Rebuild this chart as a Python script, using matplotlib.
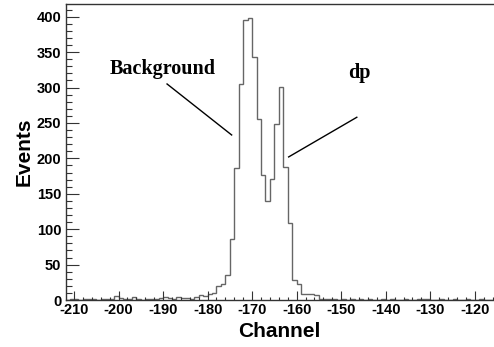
import numpy as np
import matplotlib
matplotlib.use("Agg")
import matplotlib.pyplot as plt
from matplotlib.ticker import MultipleLocator

plt.rcParams["axes.unicode_minus"] = False

# histogram: left bin edge (channel) and counts, bin width 1
channel_start = -212
counts = [
    0, 2, 1, 0, 1, 2, 1, 0, 1, 2,        # -212 .. -203
    1, 5, 3, 1, 1, 4, 1, 0, 1, 1,        # -202 .. -193
    2, 3, 4, 3, 2, 4, 3, 3, 2, 4,        # -192 .. -183
    7, 6, 9, 10, 20, 22, 35, 86, 187, 305,   # -182 .. -173
    396, 398, 343, 256, 177, 140, 171, 249, 301, 188,  # -172 .. -163
    109, 28, 22, 9, 8, 8, 7, 1, 2, 2,    # -162 .. -153
    1, 0, 1, 0, 1, 0, 1, 0, 1, 0,        # -152 .. -143
    0, 1, 0, 1, 0, 0, 1, 0, 0, 1,        # -142 .. -133
    2, 1, 0, 0, 1, 0, 0, 1, 0, 0,        # -132 .. -123
    1, 0, 0, 1, 0, 0,                    # -122 .. -117
]
edges = channel_start + np.arange(len(counts) + 1)

fig = plt.figure(figsize=(4.94, 3.47), dpi=100)
ax = fig.add_axes([65.5 / 494, 47 / 347, 1 - 65.5 / 494, (300 - 4.3) / 347])

ax.stairs(counts, edges, color="#666666", linewidth=1.0, baseline=None)

ax.set_xlim(-211.9, -115.7)
ax.set_ylim(0, 417.5)

ax.spines["right"].set_visible(False)
for s in ("left", "bottom", "top"):
    ax.spines[s].set_color("#333333")
    ax.spines[s].set_linewidth(1.0)

ax.xaxis.set_major_locator(MultipleLocator(10))
ax.xaxis.set_minor_locator(MultipleLocator(2))
ax.yaxis.set_major_locator(MultipleLocator(50))
ax.yaxis.set_minor_locator(MultipleLocator(10))
ax.tick_params(axis="both", which="both", direction="in", top=False, right=False,
               color="#333333", width=0.8)
ax.tick_params(axis="x", which="major", length=6.5, pad=2)
ax.tick_params(axis="x", which="minor", length=2.5)
ax.tick_params(axis="y", which="major", length=9, pad=3)
ax.tick_params(axis="y", which="minor", length=4.3)

for lab in ax.get_xticklabels() + ax.get_yticklabels():
    lab.set_fontfamily("Liberation Sans")
    lab.set_fontweight("bold")
    lab.set_fontsize(10.5)

ax.set_xlabel("Channel", family="Liberation Sans", weight="bold", fontsize=15, labelpad=4)
ax.set_ylabel("Events", family="Liberation Sans", weight="bold", fontsize=15, labelpad=2)

ax.text(-190.0, 326, "Background", family="Liberation Serif", weight="bold",
        fontsize=14.5, ha="center", va="center")
ax.plot([-189.1, -174.6], [305, 233], color="black", linewidth=1.0)
ax.text(-146.0, 320, "dp", family="Liberation Serif", weight="bold",
        fontsize=14.5, ha="center", va="center")
ax.plot([-146.5, -161.8], [258, 202], color="black", linewidth=1.0)

fig.savefig("out.png", dpi=100)
